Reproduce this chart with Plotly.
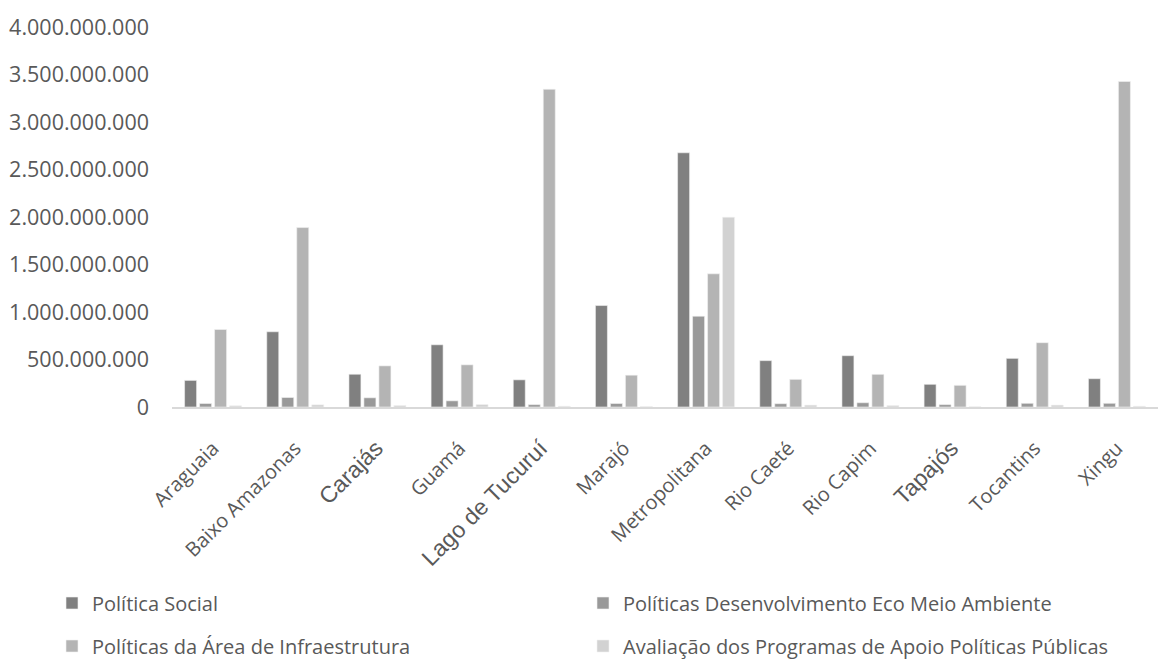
import plotly.graph_objects as go

regioes = ["Araguaia", "Baixo Amazonas", "Carajás", "Guamá", "Lago de Tucuruí", "Marajó",
           "Metropolitana", "Rio Caeté", "Rio Capim", "Tapajós", "Tocantins", "Xingu"]

politica_social = [280e6, 792e6, 345e6, 655e6, 286e6, 1068e6,
                   2676e6, 488e6, 540e6, 239e6, 512e6, 298e6]
desenv_eco_meio_ambiente = [37e6, 100e6, 97e6, 65e6, 25e6, 37e6,
                            956e6, 35e6, 45e6, 25e6, 39e6, 39e6]
infraestrutura = [816e6, 1889e6, 433e6, 444e6, 3345e6, 335e6,
                  1402e6, 291e6, 344e6, 228e6, 677e6, 3426e6]
avaliacao_programas = [13e6, 23e6, 16e6, 26e6, 8e6, 5e6,
                       1998e6, 20e6, 15e6, 3e6, 20e6, 8e6]

# a few category labels are set in a larger face
rotulos_maiores = {"Carajás", "Lago de Tucuruí", "Tapajós"}
ticktext = [
    f'<span style="font-size:23px;font-family:Liberation Sans">{r}</span>' if r in rotulos_maiores else r
    for r in regioes
]

W, H = 1161, 664

# each series gets its own legend box so the entries sit in a 2x2 grid
series = [
    ("Política Social", politica_social, "#808080", "legend", 52, 603),
    ("Políticas Desenvolvimento Eco Meio Ambiente", desenv_eco_meio_ambiente, "#999999", "legend2", 583, 603),
    ("Políticas da Área de Infraestrutura", infraestrutura, "#b4b4b4", "legend3", 52, 646),
    ("Avaliação dos Programas de Apoio Políticas Públicas", avaliacao_programas, "#d2d2d2", "legend4", 583, 646),
]

fonte = "Open Sans"
cor_texto = "#595959"

fig = go.Figure()
legendas = {}
for nome, valores, cor, leg, px, py in series:
    fig.add_trace(go.Bar(
        x=regioes, y=valores, name=nome, legend=leg,
        marker=dict(color=cor, line=dict(color="#f2f2f2", width=0.6)),
    ))
    legendas[leg] = dict(
        orientation="h", xref="container", yref="container",
        x=px / W, y=1 - py / H, xanchor="left", yanchor="middle",
        font=dict(family=fonte, size=20, color=cor_texto), bgcolor="rgba(0,0,0,0)",
        itemclick=False, itemdoubleclick=False,
    )

fig.update_layout(
    width=W, height=H,
    margin=dict(l=172, r=3, t=27, b=257),
    paper_bgcolor="white", plot_bgcolor="white",
    barmode="group", bargap=0.27, bargroupgap=0.2,
    separators=",.",
    font=dict(family=fonte, color=cor_texto),
    showlegend=True,
    xaxis=dict(
        tickmode="array", tickvals=regioes, ticktext=ticktext, tickangle=-45,
        tickfont=dict(family=fonte, size=20, color=cor_texto),
        showline=True, linecolor="#d9d9d9", linewidth=1.5,
        showgrid=False, ticks="", ticklabelstandoff=20,
    ),
    yaxis=dict(
        range=[0, 4e9], dtick=5e8, tick0=0, tickformat=",d",
        tickfont=dict(family=fonte, size=21.5, color=cor_texto),
        showgrid=False, zeroline=False, showline=False, ticks="",
        ticklabelstandoff=22,
    ),
    **legendas,
)

fig.write_html("out.html")
